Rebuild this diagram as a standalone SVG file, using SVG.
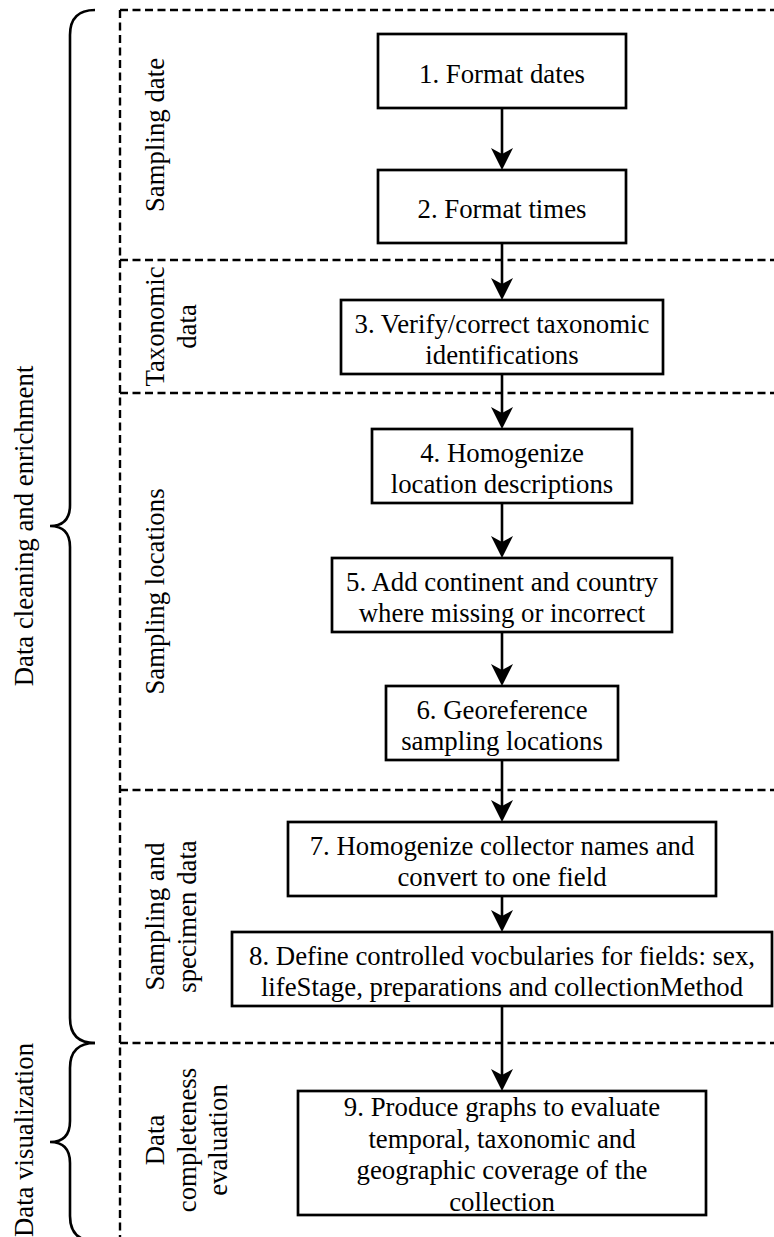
<svg xmlns="http://www.w3.org/2000/svg" width="774" height="1237" viewBox="0 0 774 1237">
<style>
.bg{fill:#fff}
.dash{stroke:#000;stroke-width:2.4;stroke-dasharray:8 4.5;fill:none}
.brace{stroke:#000;stroke-width:2.6;fill:none}
.box{fill:#fff;stroke:#000;stroke-width:2.7}
.t{font-size:26.8px;fill:#000;text-anchor:middle}
.edge{stroke:#000;stroke-width:2.6;fill:none;marker-end:url(#ah)}
</style>
<defs>
<marker id="ah" viewBox="-23 -12 24 24" refX="-10" refY="0" markerWidth="24" markerHeight="24" markerUnits="userSpaceOnUse" orient="auto">
<path d="M0,0 L-22,-11 L-16,0 L-22,11 Z" fill="#000"/>
</marker>
</defs>
<rect class="bg" x="0" y="0" width="774" height="1237"/>
<g id="lanes">
<path class="dash" d="M120,10 V1237"/>
<path class="dash" d="M120,10 H774"/>
<path class="dash" d="M120,260 H774"/>
<path class="dash" d="M120,393 H774"/>
<path class="dash" d="M120,790 H774"/>
<path class="dash" d="M120,1043 H774"/>
</g>
<g font-family="Liberation Serif, Tinos, Times New Roman, DejaVu Serif, serif">
<g id="braces">
<path class="brace" d="M95,10 Q70,10 70,35 V505 Q70,526 50,526 Q70,526 70,547 V1018 Q70,1043 95,1043"/>
<path class="brace" d="M95,1043 Q70,1043 70,1068 V1121 Q70,1142 50,1142 Q70,1142 70,1163 V1216 Q70,1241 95,1241"/>
<text class="t" transform="translate(0,526) rotate(-90)"><tspan x="0" y="33">Data cleaning and enrichment</tspan></text>
<text class="t" transform="translate(0,1140) rotate(-90)"><tspan x="0" y="33">Data visualization</tspan></text>
</g>
<g id="lane-labels">
<text class="t" transform="translate(0,135) rotate(-90)"><tspan x="0" y="164">Sampling date</tspan></text>
<text class="t" transform="translate(0,326.5) rotate(-90)"><tspan x="0" y="164">Taxonomic</tspan><tspan x="0" y="195.6">data</tspan></text>
<text class="t" transform="translate(0,591.5) rotate(-90)"><tspan x="0" y="164">Sampling locations</tspan></text>
<text class="t" transform="translate(0,916.5) rotate(-90)"><tspan x="0" y="164">Sampling and</tspan><tspan x="0" y="195.6">specimen data</tspan></text>
<text class="t" transform="translate(0,1140) rotate(-90)"><tspan x="0" y="164">Data</tspan><tspan x="0" y="195.6">completeness</tspan><tspan x="0" y="227.2">evaluation</tspan></text>
</g>
<g id="connectors">
<path class="edge" d="M502,108 V160"/>
<path class="edge" d="M502,243 V290"/>
<path class="edge" d="M502,374 V419"/>
<path class="edge" d="M502,503 V548"/>
<path class="edge" d="M502,632 V676"/>
<path class="edge" d="M502,760 V812"/>
<path class="edge" d="M502,896 V922"/>
<path class="edge" d="M502,1006 V1081"/>
</g>
<g id="n1"><rect class="box" x="378" y="34" width="248" height="74"/><text class="t" x="502" y="82.5">1. Format dates</text></g>
<g id="n2"><rect class="box" x="378" y="170" width="248" height="73"/><text class="t" x="502" y="218">2. Format times</text></g>
<g id="n3"><rect class="box" x="341" y="300" width="322" height="74"/><text class="t"><tspan x="502" y="332.7">3. Verify/correct taxonomic</tspan><tspan x="502" y="364.3">identifications</tspan></text></g>
<g id="n4"><rect class="box" x="372" y="429" width="260" height="74"/><text class="t"><tspan x="502" y="461.7">4. Homogenize</tspan><tspan x="502" y="493.3">location descriptions</tspan></text></g>
<g id="n5"><rect class="box" x="332" y="558" width="340" height="74"/><text class="t"><tspan x="502" y="590.7">5. Add continent and country</tspan><tspan x="502" y="622.3">where missing or incorrect</tspan></text></g>
<g id="n6"><rect class="box" x="386" y="686" width="232" height="74"/><text class="t"><tspan x="502" y="718.7">6. Georeference</tspan><tspan x="502" y="750.3">sampling locations</tspan></text></g>
<g id="n7"><rect class="box" x="288" y="822" width="428" height="74"/><text class="t"><tspan x="502" y="854.7">7. Homogenize collector names and</tspan><tspan x="502" y="886.3">convert to one field</tspan></text></g>
<g id="n8"><rect class="box" x="232" y="932" width="540" height="74"/><text class="t"><tspan x="502" y="964.7">8. Define controlled vocbularies for fields: sex,</tspan><tspan x="502" y="996.3">lifeStage, preparations and collectionMethod</tspan></text></g>
<g id="n9"><rect class="box" x="298" y="1091" width="408" height="124"/><text class="t"><tspan x="502" y="1116">9. Produce graphs to evaluate</tspan><tspan x="502" y="1147.5">temporal, taxonomic and</tspan><tspan x="502" y="1179">geographic coverage of the</tspan><tspan x="502" y="1210.5">collection</tspan></text></g>
</g>
</svg>
